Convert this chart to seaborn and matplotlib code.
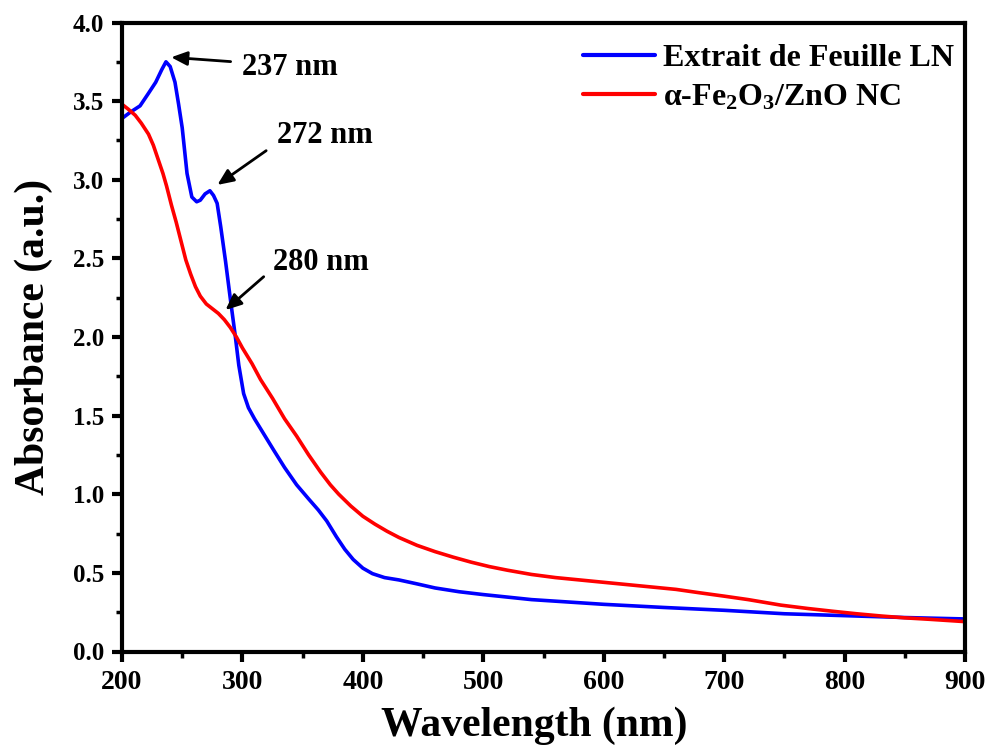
import numpy as np
import pandas as pd
import matplotlib
matplotlib.use("Agg")
import matplotlib.pyplot as plt
import seaborn as sns
from matplotlib.ticker import MultipleLocator

# ---- data ----
blue_wl = [200, 207, 215, 222, 228, 233, 236.5, 240, 244, 247, 250, 254, 258, 262, 265,
           269, 273, 276, 279, 282, 286, 290, 294, 297, 301, 305, 310, 318, 326, 335,
           345, 355, 363, 370, 378, 385, 392, 400, 408, 418, 430, 445, 460, 480, 500,
           540, 600, 650, 700, 750, 800, 850, 900]
blue_abs = [3.39, 3.43, 3.47, 3.55, 3.62, 3.70, 3.75, 3.72, 3.62, 3.48, 3.33, 3.04, 2.89,
            2.86, 2.87, 2.91, 2.93, 2.90, 2.85, 2.70, 2.48, 2.24, 2.01, 1.82, 1.64, 1.55,
            1.48, 1.38, 1.28, 1.17, 1.06, 0.97, 0.90, 0.83, 0.73, 0.65, 0.585, 0.53, 0.495,
            0.47, 0.455, 0.43, 0.404, 0.38, 0.362, 0.33, 0.30, 0.28, 0.262, 0.24, 0.228,
            0.216, 0.207]

red_wl = [200, 205, 211, 216, 222, 226, 230, 234, 237, 241, 245, 249, 253, 257, 261, 265,
          270, 275, 280, 285, 290, 295, 300, 308, 315, 325, 335, 345, 355, 365, 373, 380,
          390, 400, 410, 420, 430, 445, 460, 475, 490, 505, 520, 540, 560, 580, 600, 620,
          640, 660, 680, 700, 720, 747, 770, 790, 810, 830, 850, 870, 900]
red_abs = [3.48, 3.45, 3.41, 3.36, 3.29, 3.22, 3.13, 3.04, 2.96, 2.84, 2.73, 2.61, 2.49,
           2.40, 2.32, 2.26, 2.21, 2.18, 2.15, 2.11, 2.06, 2.00, 1.93, 1.83, 1.73, 1.61,
           1.48, 1.37, 1.25, 1.14, 1.06, 1.00, 0.925, 0.86, 0.81, 0.765, 0.725, 0.675, 0.635,
           0.60, 0.568, 0.54, 0.517, 0.49, 0.47, 0.455, 0.44, 0.425, 0.41, 0.395, 0.373,
           0.352, 0.33, 0.295, 0.273, 0.256, 0.24, 0.226, 0.214, 0.205, 0.19]

series_names = ["Extrait de Feuille LN", r"α-Fe$_\mathbf{2}$O$_\mathbf{3}$/ZnO NC"]
series_colors = ["#0000FF", "#FF0000"]

peak_labels = ["237 nm", "272 nm", "280 nm"]
peak_tips = [(238.5, 3.78), (277.3, 2.957), (284.2, 2.16)]
peak_tails = [(292.5, 3.75), (321.6, 3.195), (319.4, 2.395)]
peak_text = [(299.5, 3.715), (328.5, 3.28), (325.5, 2.475)]

xticks = [200, 300, 400, 500, 600, 700, 800, 900]
yticks = [0.0, 0.5, 1.0, 1.5, 2.0, 2.5, 3.0, 3.5, 4.0]

# ---- style ----
sns.set_theme(style="ticks")
plt.rcParams["font.family"] = ["Liberation Serif", "DejaVu Serif"]
plt.rcParams["font.weight"] = "bold"
plt.rcParams["mathtext.fontset"] = "custom"
plt.rcParams["mathtext.rm"] = "Liberation Serif:bold"
plt.rcParams["mathtext.bf"] = "Liberation Serif:bold"
plt.rcParams["mathtext.it"] = "Liberation Serif:bold"
for k in ["text.color", "axes.labelcolor", "xtick.color", "ytick.color",
          "axes.edgecolor", "xtick.labelcolor", "ytick.labelcolor"]:
    plt.rcParams[k] = "black"

df = pd.concat([
    pd.DataFrame({"Wavelength": blue_wl, "Absorbance": blue_abs, "Sample": series_names[0]}),
    pd.DataFrame({"Wavelength": red_wl, "Absorbance": red_abs, "Sample": series_names[1]}),
])

fig = plt.figure(figsize=(9.91, 7.51), dpi=100)
ax = fig.add_axes([122 / 991, 1 - 651.5 / 751, 843 / 991, (651.5 - 22.5) / 751])

sns.lineplot(data=df, x="Wavelength", y="Absorbance", hue="Sample",
             palette=dict(zip(series_names, series_colors)), linewidth=2.6,
             sort=False, ax=ax, legend=True)

ax.set_xlim(200, 900)
ax.set_ylim(0, 4.0)
ax.set_xticks(xticks)
ax.set_yticks(yticks)
ax.set_xticklabels([str(v) for v in xticks], fontsize=20, fontweight="bold")
ax.set_yticklabels([f"{v:.1f}" for v in yticks], fontsize=18, fontweight="bold")
ax.xaxis.set_minor_locator(MultipleLocator(50))
ax.yaxis.set_minor_locator(MultipleLocator(0.25))
ax.tick_params(which="major", direction="out", length=7, width=3, pad=6,
               top=False, right=False, colors="black")
ax.tick_params(which="minor", direction="out", length=4, width=2.5,
               top=False, right=False, colors="black")
for s in ax.spines.values():
    s.set_linewidth(3)
    s.set_color("black")
    s.set_visible(True)

ax.set_xlabel("Wavelength (nm)", fontsize=30, fontweight="bold", color="black")
ax.set_ylabel("Absorbance (a.u.)", fontsize=30, fontweight="bold", labelpad=14,
              color="black")
ax.xaxis.set_label_coords(0.489, -0.087)

leg = ax.legend(loc="upper left", bbox_to_anchor=(0.547, 0.966), frameon=False,
                fontsize=23, handlelength=2.25, handletextpad=0.25,
                labelspacing=0.3, borderpad=0, borderaxespad=0)
for line in leg.get_lines():
    line.set_linewidth(3)
for t in leg.get_texts():
    t.set_fontweight("bold")
    t.set_color("black")

for lab, tip, tail, txt in zip(peak_labels, peak_tips, peak_tails, peak_text):
    ax.annotate("", xy=tip, xytext=tail,
                arrowprops=dict(arrowstyle="-|>,head_length=0.8,head_width=0.35",
                                color="black", lw=2))
    ax.text(txt[0], txt[1], lab, fontsize=22, fontweight="bold",
            ha="left", va="center", color="black")

fig.savefig("out.png", dpi=100)
